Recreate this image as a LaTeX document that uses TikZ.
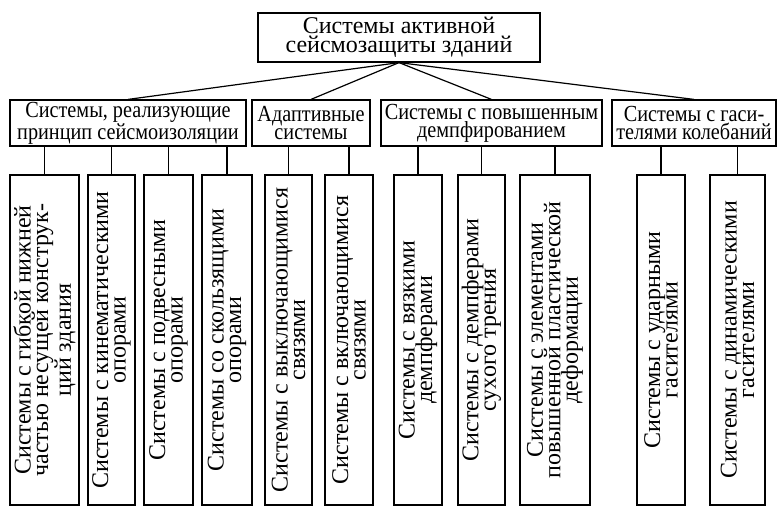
\documentclass[tikz,border=0pt]{standalone}
\usepackage{fontspec}
\setmainfont{Liberation Serif}
\newfontfamily\narrowserif{Liberation Serif}[FakeStretch=0.88]
\usepackage{tikz}
\tikzset{box/.style={
    draw=black,
    line width=1.2pt,
    inner sep=0pt,
    align=center,
    font=\narrowserif\fontsize{23}{18}\selectfont}}
\tikzset{topbox/.style={
    box,
    font=\fontsize{24}{19}\selectfont}}
\tikzset{leaf/.style={
    box,
    rotate=90,
    minimum width=330pt,
    font=\fontsize{24}{17.5}\selectfont}}
\tikzset{link/.style={
    draw=black,
    line width=1.2pt}}

\begin{document}
\begin{tikzpicture}[x=1pt,y=-1pt]
\useasboundingbox (0,0) rectangle (777,507);
\node[topbox,minimum width=282pt,minimum height=49pt] (root) at (399,37.5) {Системы активной\\сейсмозащиты зданий};

\node[box,minimum width=236pt,minimum height=46pt] (iso) at (128,123) {Системы, реализующие\\принцип сейсмоизоляции};
\node[box,minimum width=118pt,minimum height=46pt] (adapt) at (311,123) {Адаптивные\\системы};
\node[box,minimum width=221pt,minimum height=46pt] (damp) at (491.5,123) {Системы с повышенным\\демпфированием};
\node[box,minimum width=164pt,minimum height=46pt] (absorb) at (694,123) {Системы с гаси-\\телями колебаний};

\path[link] (root.south) -- (iso.north);
\path[link] (root.south) -- (adapt.north);
\path[link] (root.south) -- (damp.north);
\path[link] (root.south) -- (absorb.north);

\node[leaf,minimum height=69pt] (flex) at (44.5,340) {Системы с гибкой нижней\\частью несущей конструк-\\ций здания};
\node[leaf,minimum height=47pt] (kinem) at (111.5,340) {Системы с кинематическими\\опорами};
\node[leaf,minimum height=49pt] (hang) at (168.5,340) {Системы с подвесными\\опорами};
\node[leaf,minimum height=50pt] (slide) at (227,340) {Системы со скользящими\\опорами};
\node[leaf,minimum height=47pt] (off) at (288.5,340) {Системы с выключающимися\\связями};
\node[leaf,minimum height=48pt] (on) at (349,340) {Системы с включающимися\\связями};
\node[leaf,minimum height=48pt] (visc) at (418,340) {Системы с вязкими\\демпферами};
\node[leaf,minimum height=47pt] (fric) at (481.5,340) {Системы с демпферами\\сухого трения};
\node[leaf,minimum height=70pt] (plast) at (555,340) {Системы с элементами\\повышенной пластической\\деформации};
\node[leaf,minimum height=48pt] (impact) at (661,340) {Системы с ударными\\гасителями};
\node[leaf,minimum height=55pt] (dyn) at (737.5,340) {Системы с динамическими\\гасителями};

\foreach \leafname in {flex,kinem,hang,slide}
  \path[link] (\leafname.east) -- (\leafname.east |- iso.south);
\foreach \leafname in {off,on}
  \path[link] (\leafname.east) -- (\leafname.east |- adapt.south);
\foreach \leafname in {visc,fric,plast}
  \path[link] (\leafname.east) -- (\leafname.east |- damp.south);
\foreach \leafname in {impact,dyn}
  \path[link] (\leafname.east) -- (\leafname.east |- absorb.south);
\end{tikzpicture}
\end{document}
